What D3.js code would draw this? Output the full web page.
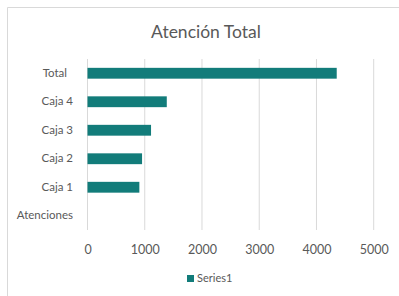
<!DOCTYPE html>
<html><head><meta charset="utf-8">
<script src="https://cdn.jsdelivr.net/npm/d3@7"></script>
<style>
html,body{margin:0;padding:0;background:#fff;}
svg{display:block;font-family:Lato,"Noto Sans",sans-serif;}
</style></head>
<body><svg id="c" width="399" height="296"></svg>
<script>
const title = "Atención Total";
const categories = ["Total", "Caja 4", "Caja 3", "Caja 2", "Caja 1", "Atenciones"];
const values = [4354, 1385, 1110, 953, 906, 0];
const xTicks = [0, 1000, 2000, 3000, 4000, 5000];
const seriesName = "Series1";

const svg = d3.select("#c");
const color = "#127c7a";
const textColor = "#595959";

// chart frame
svg.append("path").attr("d", "M7.5,296 V7.5 H399").attr("fill", "none").attr("stroke", "#d9d9d9").attr("stroke-width", 1);

const x = d3.scaleLinear().domain([0, 5000]).range([87.5, 373.7]);
const y = d3.scaleBand().domain(categories).range([59, 230]).paddingInner(0.62).paddingOuter(0.31);

// gridlines
svg.append("g").selectAll("line").data(xTicks).join("line")
  .attr("x1", d => x(d)).attr("x2", d => x(d))
  .attr("y1", 59).attr("y2", 230)
  .attr("stroke", "#d9d9d9").attr("stroke-width", 1);

// bars
svg.append("g").selectAll("rect").data(categories).join("rect")
  .attr("x", x(0))
  .attr("y", d => y(d))
  .attr("width", (d, i) => x(values[i]) - x(0))
  .attr("height", y.bandwidth())
  .attr("fill", color);

// category axis
const yAxis = d3.axisLeft(y).tickSize(0).tickPadding(0);
const ya = svg.append("g").attr("transform", "translate(73,0)").call(yAxis);
ya.select(".domain").remove();
ya.selectAll("text").attr("fill", textColor).attr("font-size", 11.5)
  .attr("font-family", "Lato,'Noto Sans',sans-serif")
  .attr("dx", d => d === "Total" ? -6 : 0);

// value axis
const xAxis = d3.axisBottom(x).tickValues(xTicks).tickSize(0).tickPadding(0).tickFormat(d3.format("d"));
const xa = svg.append("g").attr("transform", "translate(0,245)").call(xAxis);
xa.select(".domain").remove();
xa.selectAll("text").attr("fill", textColor).attr("font-size", 12.5)
  .attr("font-family", "Lato,'Noto Sans',sans-serif");

// title
svg.append("text").attr("x", 206).attr("y", 38).attr("text-anchor", "middle")
  .attr("fill", textColor).attr("font-size", 17.5).text(title);

// legend
const lg = svg.append("g");
lg.append("rect").attr("x", 187).attr("y", 275).attr("width", 7).attr("height", 7).attr("fill", color);
lg.append("text").attr("x", 197).attr("y", 282).attr("fill", textColor).attr("font-size", 11).text(seriesName);
</script></body></html>
